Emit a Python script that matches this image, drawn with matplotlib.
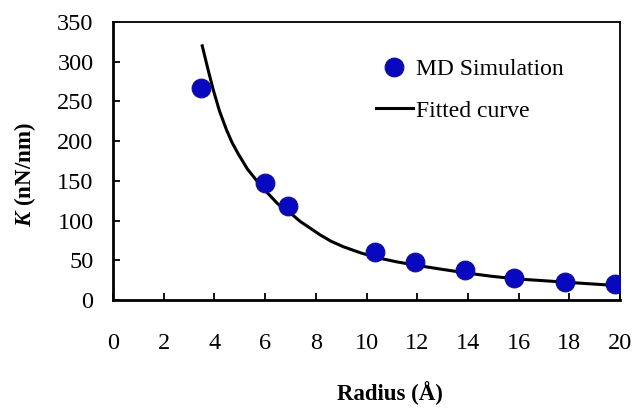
import matplotlib
matplotlib.use("Agg")
from matplotlib import pyplot as plt

# MD simulation points
radius = [3.47, 6.0, 6.9, 10.34, 11.91, 13.89, 15.82, 17.83, 19.8]
k_md = [267, 147, 118, 60, 47.5, 38, 28, 23, 20]

# fitted curve
radius_fit = [3.52, 3.75, 3.96, 4.2, 4.48, 4.7, 4.94, 5.3, 5.7, 6.06, 6.5,
              7.09, 7.38, 7.8, 8.17, 8.6, 9.09, 9.8, 10.53, 11.2, 11.91,
              12.9, 13.95, 14.9, 15.92, 16.9, 17.9, 19.0, 20.0]
k_fit = [320, 290, 264, 238, 214, 198, 184, 165, 149, 136, 121,
         107, 99, 90, 82, 74, 67, 59, 52.5, 48, 44,
         39, 34, 30, 26.5, 24.5, 22.3, 20, 18]

plt.rcParams["font.family"] = ["Liberation Serif", "DejaVu Serif"]
plt.rcParams["mathtext.fontset"] = "custom"
plt.rcParams["mathtext.bfit"] = "Liberation Serif:italic:bold"

fig = plt.figure(figsize=(6.39, 4.12), dpi=100)
ax = fig.add_axes([113 / 639, 1 - 300 / 412, 507 / 639, 278 / 412])

ax.plot(radius_fit, k_fit, color="black", lw=2.2, label="Fitted curve", zorder=2)
ax.plot(radius, k_md, ls="none", marker="o", ms=13.5, color="#0808c0",
        markeredgecolor="#101090", markeredgewidth=0.8, label="MD Simulation", zorder=3)

ax.set_xlim(0, 20)
ax.set_ylim(0, 350)
ax.set_xticks(range(0, 21, 2))
ax.set_yticks(range(0, 351, 50))
ax.tick_params(direction="in", length=5, width=1.3, labelsize=17.5)
ax.tick_params(axis="y", pad=14)
ax.tick_params(axis="x", pad=24)
for s in ax.spines.values():
    s.set_linewidth(1.3)
for s in ["left", "bottom"]:
    ax.spines[s].set_linewidth(2)

fig.text(390 / 639, 1 - 393 / 412, "Radius (Å)", ha="center", va="center",
         fontsize=16.5, fontweight="bold")
fig.text(25 / 639, 1 - 175 / 412, r"$\boldsymbol{K}$ (nN/nm)", ha="center", va="center",
         rotation=90, fontsize=16.5, fontweight="bold")

handles, labels = ax.get_legend_handles_labels()
ax.legend(handles[::-1], labels[::-1], loc="upper left", bbox_to_anchor=(0.476, 0.945),
          frameon=False, fontsize=17, handlelength=1.6, handletextpad=0.1,
          labelspacing=0.85)

fig.savefig("out.png", dpi=100)
